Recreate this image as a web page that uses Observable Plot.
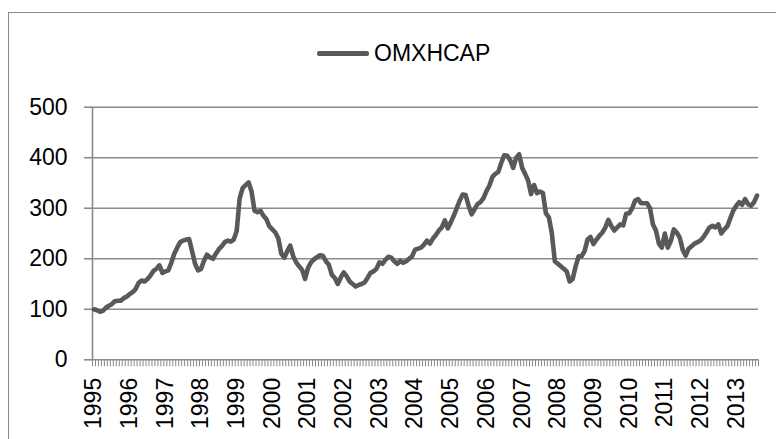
<!DOCTYPE html>
<html>
<head>
<meta charset="utf-8">
<script src="https://cdn.jsdelivr.net/npm/d3@7"></script>
<script src="https://cdn.jsdelivr.net/npm/@observablehq/plot@0.6"></script>
<style>
  html, body { margin: 0; padding: 0; background: #fff; }
  #wrap { position: relative; width: 776px; height: 439px; overflow: hidden; font-family: "Liberation Sans", Arial, sans-serif; }
  #frame { position: absolute; left: 8px; top: 12px; width: 820px; height: 520px; border: 1.5px solid #8a8a8a; box-sizing: border-box; }
  #chart { position: absolute; left: 0; top: 0; }
  #legend-line { position: absolute; left: 317px; top: 50.5px; width: 52px; height: 5px; background: #595959; border-radius: 2px; }
  #legend-text { position: absolute; left: 374px; top: 42px; font-size: 23px; line-height: 23px; color: #000; }
</style>
</head>
<body>
<div id="wrap">
  <div id="frame"></div>
  <div id="chart"></div>
  <div id="legend-line"></div>
  <div id="legend-text"></div>
</div>
<script>
const seriesName = "OMXHCAP";
const startYear = 1995;
const yearLabels = ["1995","1996","1997","1998","1999","2000","2001","2002","2003","2004","2005","2006","2007","2008","2009","2010","2011","2012","2013"];
const yTicks = [0, 100, 200, 300, 400, 500];
// monthly index values, Jan 1995 .. Aug 2013
const values = [
  100, 98, 95, 97, 103, 107, 110, 116, 117, 117, 122, 125,
  130, 134, 140, 152, 157, 155, 160, 167, 176, 180, 187, 172,
  175, 177, 192, 210, 222, 233, 236, 238, 239, 215, 190, 177,
  180, 196, 208, 203, 200, 210, 219, 225, 233, 236, 234, 238,
  255, 320, 340, 346, 351, 333, 295, 292, 295, 285, 278, 264,
  258, 252, 240, 210, 202, 215, 226, 205, 193, 185, 178, 160,
  182, 193, 199, 203, 207, 206, 195, 188, 168, 162, 150, 163,
  173, 165, 155, 150, 145, 148, 150, 153, 162, 172, 175, 180,
  193, 190, 198, 204, 202, 195, 190, 196, 192, 195, 200, 205,
  218, 220, 222, 228, 236, 230, 240, 247, 256, 262, 276, 260,
  272, 285, 300, 315, 327, 326, 305, 288, 298, 308, 312, 320,
  334, 345, 362, 368, 372, 390, 405, 404, 395, 380, 400, 407,
  380, 368, 355, 328, 346, 330, 333, 330, 290, 282, 250, 195,
  190, 185, 180, 175, 155, 160, 185, 205, 205, 215, 238, 243,
  229, 238, 246, 252, 262, 277, 265, 256, 262, 268, 266, 289,
  290, 300, 315, 318, 310, 310, 310, 300, 268, 256, 230, 222,
  250, 222, 235, 258, 252, 242, 218, 206, 220, 225, 230, 233,
  236, 243, 252, 262, 265, 262, 268, 250, 258, 264, 280, 295,
  305, 312, 307, 318, 308, 305, 312, 325
];

const data = values.map((v, i) => ({ i, v }));
const n = values.length;
const gray = "#8a8a8a";
const yearTicks = yearLabels.map((_, k) => k * 12);
const monthBounds = d3.range(n + 1).map(k => k - 0.5);

document.getElementById("legend-text").textContent = seriesName;

const chart = Plot.plot({
  width: 776,
  height: 439,
  marginLeft: 92,
  marginRight: 18,
  marginTop: 106.7,
  marginBottom: 79.7,
  style: { fontFamily: "'Liberation Sans', Arial, sans-serif", background: "transparent", overflow: "visible" },
  x: { type: "linear", domain: [-0.5, n - 0.5] },
  y: { domain: [0, 500] },
  marks: [
    Plot.gridY(yTicks.filter(t => t > 0), { stroke: gray, strokeOpacity: 1, strokeWidth: 1.6 }),
    Plot.axisY(yTicks, { tickSize: 8, tickPadding: 17, fontSize: 23, stroke: gray, strokeWidth: 1.6, fill: "#000", label: null }),
    Plot.axisX(monthBounds, { tickSize: 7, tickFormat: () => "", stroke: gray, strokeWidth: 1, label: null }),
    Plot.axisX(yearTicks, { tickSize: 0, tickPadding: 18, tickRotate: -90, fontSize: 23, fill: "#000", tickFormat: (d) => yearLabels[d / 12], label: null }),
    Plot.ruleX([-0.5], { stroke: gray, strokeWidth: 1.6 }),
    Plot.ruleY([0], { stroke: gray, strokeWidth: 1.6 }),
    Plot.line(data, { x: "i", y: "v", stroke: "#595959", strokeWidth: 4.6, strokeLinejoin: "round", strokeLinecap: "round" })
  ]
});
document.getElementById("chart").appendChild(chart);
</script>
</body>
</html>
